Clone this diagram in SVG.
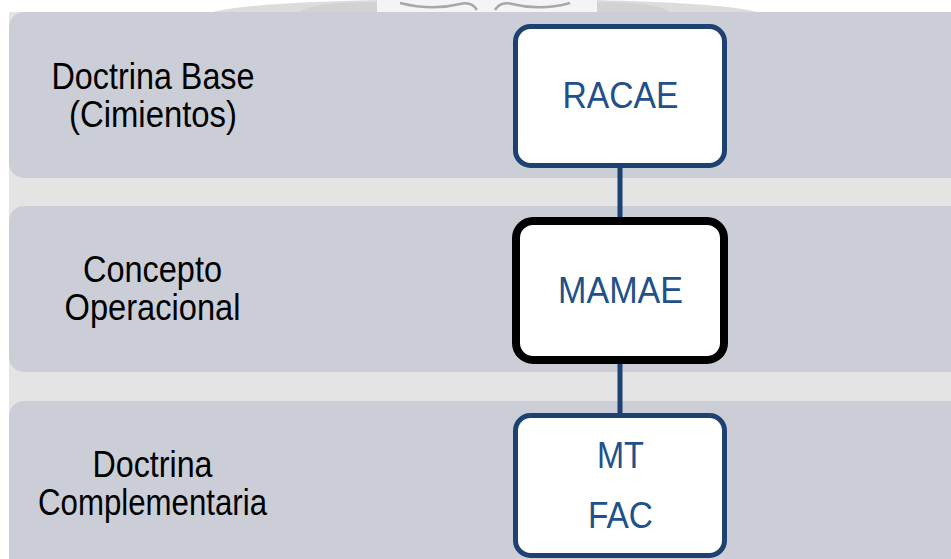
<svg xmlns="http://www.w3.org/2000/svg" width="951" height="559" viewBox="0 0 951 559">
<style>
.band{fill:#cbced7}
.lbl{font-family:"Liberation Sans",Arial,sans-serif;font-size:36px;fill:#000;text-anchor:middle}
.box{fill:#fff;stroke:#1d4171;stroke-width:5}
.boxk{fill:#fff;stroke:#000;stroke-width:8}
.btxt{font-family:"Liberation Sans",Arial,sans-serif;font-size:36px;fill:#22508a;text-anchor:middle}
.conn{stroke:#1d4171;stroke-width:5;fill:none}
</style>
<rect width="951" height="559" fill="#fff"/>
<g id="emblem">
<path d="M213,12 C240,5 300,2 377,0 L377,12 Z" fill="#dcdcdc"/>
<path d="M300,12 C310,4 340,2 377,2 L377,12 Z" fill="#d2d2d2"/>
<path d="M597,0 C670,2 730,5 757,12 L597,12 Z" fill="#dcdcdc"/>
<path d="M597,2 C630,2 660,4 670,12 L597,12 Z" fill="#d2d2d2"/>
<rect x="377" y="0" width="220" height="12" fill="#f4f4f4"/>
<path d="M400,3 C420,8 440,9 460,4 C468,2 474,5 477,10" fill="none" stroke="#a8a8a8" stroke-width="2.5"/>
<path d="M495,10 C498,5 504,2 512,4 C532,9 552,8 570,3" fill="none" stroke="#a8a8a8" stroke-width="2.5"/>
</g>
<rect x="9" y="12" width="942" height="547" fill="#e4e4e4"/>
<g id="band1"><rect class="band" x="9" y="12" width="960" height="166" rx="15"/>
<text class="lbl"><tspan x="153" y="89" textLength="203" lengthAdjust="spacingAndGlyphs">Doctrina Base</tspan><tspan x="153" y="127" textLength="168" lengthAdjust="spacingAndGlyphs">(Cimientos)</tspan></text></g>
<g id="band2"><rect class="band" x="9" y="206" width="960" height="166" rx="15"/>
<text class="lbl"><tspan x="152.5" y="282" textLength="139" lengthAdjust="spacingAndGlyphs">Concepto</tspan><tspan x="152.5" y="320" textLength="176" lengthAdjust="spacingAndGlyphs">Operacional</tspan></text></g>
<g id="band3"><rect class="band" x="9" y="401" width="960" height="180" rx="15"/>
<text class="lbl"><tspan x="152.5" y="477" textLength="120" lengthAdjust="spacingAndGlyphs">Doctrina</tspan><tspan x="152.5" y="515" textLength="229" lengthAdjust="spacingAndGlyphs">Complementaria</tspan></text></g>
<g id="connectors">
<line class="conn" x1="620" y1="166" x2="620" y2="219"/>
<line class="conn" x1="620" y1="362" x2="620" y2="415"/>
</g>
<g id="racae"><rect class="box" x="515.5" y="26.5" width="209" height="139" rx="15"/>
<text class="btxt" x="620.5" y="108" textLength="116" lengthAdjust="spacingAndGlyphs">RACAE</text></g>
<g id="mamae"><rect class="boxk" x="516" y="221" width="208" height="139" rx="17"/>
<text class="btxt" x="620.5" y="303" textLength="125" lengthAdjust="spacingAndGlyphs">MAMAE</text></g>
<g id="mtfac"><rect class="box" x="515.5" y="415.5" width="209" height="140" rx="15"/>
<text class="btxt"><tspan x="620.5" y="468" textLength="47" lengthAdjust="spacingAndGlyphs">MT</tspan><tspan x="620.5" y="528" textLength="65" lengthAdjust="spacingAndGlyphs">FAC</tspan></text></g>
</svg>
